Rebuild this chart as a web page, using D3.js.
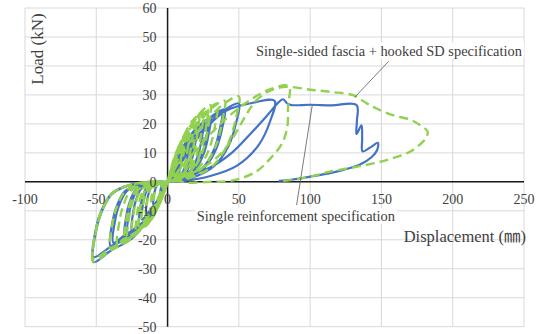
<!DOCTYPE html>
<html><head><meta charset="utf-8">
<script src="https://cdn.jsdelivr.net/npm/d3@7"></script>
<style>body{margin:0;background:#fff}svg{display:block}</style>
</head><body>
<svg id="c" width="540" height="334"></svg>
<script>
const xTicks = [-100, -50, 0, 50, 100, 150, 200, 250];
const yTicks = [-50, -40, -30, -20, -10, 0, 10, 20, 30, 40, 50, 60];
const xTitle = "Displacement (㎜)";
const yTitle = "Load (kN)";
const seriesNames = ["Single reinforcement specification", "Single-sided fascia + hooked SD specification"];

// Series 1: Single reinforcement specification (blue, solid) [displacement mm, load kN]
const singleReinforcement = [
 [0,0],[0.5,0.75],[1.5,2.25],[2.75,3.6],[4,4.6],[5,5],[4.8,3.75],[4.25,2.25],[3.25,1],[2,0.35],[0.75,0.05],[0,0],[-0.95,-1.4],[-2.3,-2.76],[-3.85,-3.44],[-5,-4],[-4.8,-2.4],[-4.5,-1.6],[-3.75,-0.6],[-2.5,-0.16],[-1.25,0],
 [0,0],[1,1.35],[3,4.05],[5.5,6.5],[8,8.3],[10,9],[9.6,6.75],[8.5,4.05],[6.5,1.8],[4,0.6],[1.5,0.1],[0,0],[-1.9,-2.8],[-4.6,-5.5],[-7.7,-6.9],[-10,-8],[-9.6,-4.8],[-9,-3.2],[-7.5,-1.2],[-5,-0.3],[-2.5,0],
 [0,0],[1.5,1.95],[4.5,5.85],[8.25,9.4],[12,12],[15,13],[14.4,9.75],[12.75,5.85],[9.75,2.6],[6,0.9],[2.25,0.13],[0,0],[-2.85,-3.85],[-6.9,-7.6],[-11.55,-9.5],[-15,-11],[-14.4,-6.6],[-13.5,-4.4],[-11.25,-1.65],[-7.5,-0.44],[-3.75,0],
 [0,0],[1.8,2.25],[5.4,6.75],[9.9,10.8],[14.4,13.8],[18,15],[17.3,11.25],[15.3,6.75],[11.7,3],[7.2,1.05],[2.7,0.15],[0,0],[-3.4,-4.55],[-8.3,-9],[-13.9,-11.2],[-18,-13],[-17.3,-7.8],[-16.2,-5.2],[-13.5,-1.95],[-9,-0.52],[-4.5,0],
 [0,0],[2,2.55],[6,7.65],[11,12.2],[16,15.6],[20,17],[19.2,12.75],[17,7.65],[13,3.4],[8,1.2],[3,0.17],[0,0],[-3.8,-5.25],[-9.2,-10.35],[-15.4,-12.9],[-20,-15],[-19.2,-9],[-18,-6],[-15,-2.25],[-10,-0.6],[-5,0],
 [0,0],[2.5,3],[7.5,9],[13.75,14.4],[20,18.4],[25,20],[24,15],[21.25,9],[16.25,4],[10,1.4],[3.75,0.2],[0,0],[-4.75,-5.95],[-11.5,-11.7],[-19.25,-14.6],[-25,-17],[-24,-10.2],[-22.5,-6.8],[-18.75,-2.55],[-12.5,-0.68],[-6.25,0],
 [0,0],[2.8,3],[8.4,9],[15.4,14.4],[22.4,18.4],[28,20],[26.9,15],[23.8,9],[18.2,4],[11.2,1.4],[4.2,0.2],[0,0],[-5.3,-6.3],[-12.9,-12.4],[-21.6,-15.5],[-28,-18],[-26.9,-10.8],[-25.2,-7.2],[-21,-2.7],[-14,-0.72],[-7,0],
 [0,0],[3,3.3],[9,9.9],[16.5,15.8],[24,20.2],[30,22],[28.8,16.5],[25.5,9.9],[19.5,4.4],[12,1.5],[4.5,0.2],[0,0],[-5.7,-6.65],[-13.8,-13.1],[-23.1,-16.3],[-30,-19],[-28.8,-11.4],[-27,-7.6],[-22.5,-2.85],[-15,-0.76],[-7.5,0],
 [0,0],[3.8,3.6],[11.4,10.8],[20.9,17.3],[30.4,22.1],[38,24],[36.5,18],[32.3,10.8],[24.7,4.8],[15.2,1.7],[5.7,0.24],[0,0],[-7.2,-7.35],[-17.5,-14.5],[-29.3,-18.1],[-38,-21],[-36.5,-12.6],[-34.2,-8.4],[-28.5,-3.15],[-19,-0.84],[-9.5,0],
 [0,0],[4,3.75],[12,11.25],[22,18],[32,23],[40,25],[38.4,18.75],[34,11.25],[26,5],[16,1.75],[6,0.25],[0,0],[-7.6,-7.7],[-18.4,-15.2],[-30.8,-18.9],[-40,-22],[-38.4,-13.2],[-36,-8.8],[-30,-3.3],[-20,-0.9],[-10,0],
 [0,0],[5,4],[15,12.2],[27.5,19.4],[40,24.8],[50,27],[48,20.25],[42.5,12.15],[32.5,5.4],[20,1.9],[7.5,0.3],[0,0],[-9.9,-9.7],[-23.9,-19.1],[-40,-23.8],[-52,-27.7],[-50,-16.6],[-46.8,-11.1],[-39,-4.2],[-26,-1.1],[-13,0],
 [0,0],[7.5,5],[22.5,16],[41,24.5],[60,27.3],[75,28],[72,21],[63.75,12.6],[48.75,5.6],[30,2],[11.25,0.3],[0,0],[-9.9,-9.1],[-23.9,-17.9],[-40,-22.4],[-52,-26],[-50,-15.6],[-46.8,-10.4],[-39,-3.9],[-26,-1],[-13,0],
 [0,0],[15,2.5],[30,5],[45,10],[58,16.5],[70,23],[78,27.5],[81,28.5],[84,27],[87,26.5],[100,26.6],[115,26.4],[132.5,26.5],[132.8,21],[132.5,16.5],[136,19.5],[136.5,15],[136.8,10.5],[142,11.8],[147.5,13.5],[147,11],[143,8.5],[135,6],[124,4.2],[114,3],[100,1.8],[88,0.8],[78,0.3]
];

// Series 2: Single-sided fascia + hooked SD specification (green, dashed)
const fasciaHookedSD = [
 [0,0],[0.5,1.05],[1.5,3.15],[2.75,5],[4,6.4],[5,7],[4.8,5.25],[4.25,3.15],[3.25,1.4],[2,0.5],[0.75,0.07],[0,0],[-0.95,-1.75],[-2.3,-3.45],[-3.85,-4.3],[-5,-5],[-4.8,-3],[-4.5,-2],[-3.75,-0.75],[-2.5,-0.2],[-1.25,0],
 [0,0],[1,1.8],[3,5.4],[5.5,8.6],[8,11],[10,12],[9.6,9],[8.5,5.4],[6.5,2.4],[4,0.84],[1.5,0.12],[0,0],[-1.9,-3.15],[-4.6,-6.2],[-7.7,-7.75],[-10,-9],[-9.6,-5.4],[-9,-3.6],[-7.5,-1.35],[-5,-0.36],[-2.5,0],
 [0,0],[1.2,2.25],[3.6,6.75],[6.6,10.8],[9.6,13.8],[12,15],[11.5,11.25],[10.2,6.75],[7.8,3],[4.8,1.05],[1.8,0.15],[0,0],[-2.3,-3.5],[-5.5,-6.9],[-9.2,-8.6],[-12,-10],[-11.5,-6],[-10.8,-4],[-9,-1.5],[-6,-0.4],[-3,0],
 [0,0],[1.5,2.55],[4.5,7.65],[8.25,12.2],[12,15.6],[15,17],[14.4,12.75],[12.75,7.65],[9.75,3.4],[6,1.2],[2.25,0.17],[0,0],[-2.85,-4.2],[-6.9,-8.3],[-11.55,-10.3],[-15,-12],[-14.4,-7.2],[-13.5,-4.8],[-11.25,-1.8],[-7.5,-0.48],[-3.75,0],
 [0,0],[1.8,3],[5.4,9],[9.9,14.4],[14.4,18.4],[18,20],[17.3,15],[15.3,9],[11.7,4],[7.2,1.4],[2.7,0.2],[0,0],[-3.4,-4.9],[-8.3,-9.7],[-13.9,-12],[-18,-14],[-17.3,-8.4],[-16.2,-5.6],[-13.5,-2.1],[-9,-0.56],[-4.5,0],
 [0,0],[2,3.15],[6,9.45],[11,15.1],[16,19.3],[20,21],[19.2,15.75],[17,9.45],[13,4.2],[8,1.5],[3,0.2],[0,0],[-3.8,-5.6],[-9.2,-11],[-15.4,-13.8],[-20,-16],[-19.2,-9.6],[-18,-6.4],[-15,-2.4],[-10,-0.64],[-5,0],
 [0,0],[2.2,3.45],[6.6,10.35],[12.1,16.6],[17.6,21.2],[22,23],[21.1,17.25],[18.7,10.35],[14.3,4.6],[8.8,1.6],[3.3,0.23],[0,0],[-4.2,-5.95],[-10.1,-11.7],[-16.9,-14.6],[-22,-17],[-21.1,-10.2],[-19.8,-6.8],[-16.5,-2.55],[-11,-0.68],[-5.5,0],
 [0,0],[2.5,3.6],[7.5,10.8],[13.75,17.3],[20,22.1],[25,24],[24,18],[21.25,10.8],[16.25,4.8],[10,1.7],[3.75,0.24],[0,0],[-4.75,-6.65],[-11.5,-13.1],[-19.25,-16.3],[-25,-19],[-24,-11.4],[-22.5,-7.6],[-18.75,-2.85],[-12.5,-0.76],[-6.25,0],
 [0,0],[2.8,3.75],[8.4,11.25],[15.4,18],[22.4,23],[28,25],[26.9,18.75],[23.8,11.25],[18.2,5],[11.2,1.75],[4.2,0.25],[0,0],[-5.3,-7],[-12.9,-13.8],[-21.6,-17.2],[-28,-20],[-26.9,-12],[-25.2,-8],[-21,-3],[-14,-0.8],[-7,0],
 [0,0],[3,4],[9,11.9],[16.5,19.1],[24,24.4],[30,26.5],[28.8,19.9],[25.5,11.9],[19.5,5.3],[12,1.9],[4.5,0.27],[0,0],[-5.7,-7.35],[-13.8,-14.5],[-23.1,-18.1],[-30,-21],[-28.8,-12.6],[-27,-8.4],[-22.5,-3.15],[-15,-0.84],[-7.5,0],
 [0,0],[3.5,4.05],[10.5,12.15],[19.25,19.4],[28,24.8],[35,27],[33.6,20.25],[29.75,12.15],[22.75,5.4],[14,1.9],[5.25,0.27],[0,0],[-6.65,-7.7],[-16.1,-15.2],[-27,-18.9],[-35,-22],[-33.6,-13.2],[-31.5,-8.8],[-26.25,-3.3],[-17.5,-0.88],[-8.75,0],
 [0,0],[4,4.2],[12,12.6],[22,20.2],[32,25.8],[40,28],[38.4,21],[34,12.6],[26,5.6],[16,2],[6,0.28],[0,0],[-7.6,-8],[-18.4,-15.9],[-30.8,-19.8],[-40,-23],[-38.4,-13.8],[-36,-9.2],[-30,-3.45],[-20,-0.92],[-10,0],
 [0,0],[5,4.4],[15,13.3],[27.5,21.2],[40,27.1],[50,29.5],[48,22.1],[42.5,13.3],[32.5,5.9],[20,2.1],[7.5,0.3],[0,0],[-9.9,-9.6],[-23.9,-19],[-40,-23.7],[-52,-27.5],[-50,-16.5],[-46.8,-11],[-39,-4.1],[-26,-1.1],[-13,0],
 [0,0],[8,4],[20,11],[35,19],[50,25.5],[62,29.5],[72,32],[85,33],[84.5,26],[84,19],[80,13],[72,8],[62,3.5],[46,0.5],[30,0],[15,-0.3],[0,0],[-9.9,-9.2],[-23.9,-18.3],[-40,-22.9],[-52,-26.5],[-50,-15.9],[-46.8,-10.6],[-39,-4],[-26,-1],[-13,0],
 [0,0],[12,2],[25,5],[38,10],[48,17],[55,23],[62,28],[72,31.5],[83,32.8],[100,31.8],[115,31],[130,29.9],[140,27],[146.5,25.3],[158,23],[170,21.5],[177,19.6],[182.5,17.3],[181,15],[179,13.8],[170,10.4],[153.5,7.5],[134.8,5.4],[113.8,3.5],[99.7,1.7],[88,0.7],[80,0.3]
];

const svg = d3.select("#c");
const x = d3.scaleLinear().domain([-100, 250]).range([25, 524]);
const y = d3.scaleLinear().domain([-50, 60]).range([326.7, 8]);
const SERIF = '"Liberation Serif", "Times New Roman", monospace';
const SERIF_CJK = '"Liberation Serif", "Noto Sans CJK JP", monospace';

// gridlines
const g = svg.append("g");
g.selectAll("line.v").data(xTicks).join("line")
  .attr("x1", d => x(d)).attr("x2", d => x(d)).attr("y1", y(60)).attr("y2", y(-50))
  .attr("stroke", "#d9d9d9").attr("stroke-width", 1);
g.selectAll("line.h").data(yTicks).join("line")
  .attr("x1", x(-100)).attr("x2", x(250)).attr("y1", d => y(d)).attr("y2", d => y(d))
  .attr("stroke", "#d9d9d9").attr("stroke-width", 1);

// axes through zero
svg.append("line").attr("x1", x(-100)).attr("x2", x(250)).attr("y1", y(0)).attr("y2", y(0))
  .attr("stroke", "#1a1a1a").attr("stroke-width", 1.5);
svg.append("line").attr("x1", x(0)).attr("x2", x(0)).attr("y1", y(60)).attr("y2", y(-50))
  .attr("stroke", "#1a1a1a").attr("stroke-width", 1.5);

// series
const line = d3.line().x(d => x(d[0])).y(d => y(d[1])).curve(d3.curveCatmullRom.alpha(0.5));
svg.append("path").datum(singleReinforcement).attr("d", line)
  .attr("fill", "none").attr("stroke", "#4472C4").attr("stroke-width", 2.2).attr("stroke-linejoin", "round");
svg.append("path").datum(fasciaHookedSD).attr("d", line)
  .attr("fill", "none").attr("stroke", "#92D050").attr("stroke-width", 2.4)
  .attr("stroke-dasharray", "9,5").attr("stroke-linejoin", "round");

// tick labels
svg.selectAll("text.xt").data(xTicks).join("text").attr("class", "xt")
  .attr("x", d => x(d)).attr("y", y(0) + 22).attr("text-anchor", "middle")
  .style("font-family", SERIF).style("font-size", "14px").attr("fill", "#404040").text(d => d);
svg.selectAll("text.yt").data(yTicks).join("text").attr("class", "yt")
  .attr("x", x(0) - 11).attr("y", d => y(d) + 5).attr("text-anchor", "end")
  .style("font-family", SERIF).style("font-size", "14px").attr("fill", "#404040").text(d => d);

// axis titles
svg.append("text").attr("transform", "translate(43,49) rotate(-90)").attr("text-anchor", "middle")
  .style("font-family", SERIF).style("font-size", "17px").attr("fill", "#404040").text(yTitle);
svg.append("text").attr("x", 526).attr("y", 242).attr("text-anchor", "end")
  .style("font-family", SERIF_CJK).style("font-size", "16.5px").attr("fill", "#404040").text(xTitle);

// annotations with leader lines
function annotate(label, tx, ty, lx1, ly1, lx2, ly2) {
  svg.append("line").attr("x1", x(lx1)).attr("y1", y(ly1)).attr("x2", x(lx2)).attr("y2", y(ly2))
    .attr("stroke", "#595959").attr("stroke-width", 0.8);
  const t = svg.append("text").attr("x", x(tx)).attr("y", y(ty)).attr("text-anchor", "end")
    .style("font-family", SERIF).style("font-size", "14.4px").attr("fill", "#404040").text(label);
  const b = t.node().getBBox();
  svg.insert("rect", () => t.node()).attr("x", b.x - 2).attr("y", b.y).attr("width", b.width + 4).attr("height", b.height)
    .attr("fill", "#fff");
}
annotate(seriesNames[1], 248.5, 43.6, 155.1, 41.6, 131.3, 29.2);
annotate(seriesNames[0], 159.5, -13.5, 101.5, 26.5, 90.5, -8);
</script>
</body></html>
